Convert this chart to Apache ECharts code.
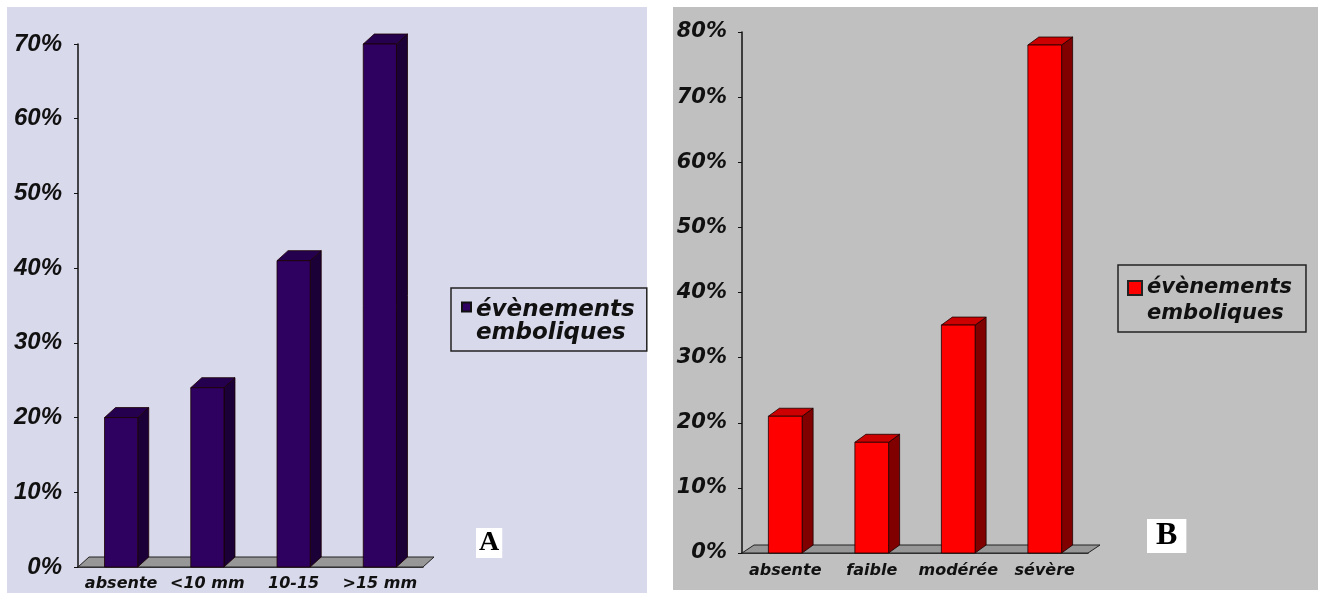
<!DOCTYPE html>
<html>
<head>
<meta charset="utf-8">
<script src="https://cdn.jsdelivr.net/npm/echarts@6/dist/echarts.min.js"></script>
<style>
html,body{margin:0;padding:0;background:#fff;}
#chart{width:1318px;height:593px;}
</style>
</head>
<body>
<div id="chart"></div>
<script>
// ---- Data ----
var categoriesA = ['absente', '<10 mm', '10-15', '>15 mm'];
var valuesA = [20, 24, 41, 70];
var categoriesB = ['absente', 'faible', 'modérée', 'sévère'];
var valuesB = [21, 17, 35, 78];
var seriesName = 'évènements emboliques';
var legendText = 'évènements\nemboliques';
var panelLabels = ['A', 'B'];

function bar3d(front, side, top, dx, dy, ratio) {
  return function (params, api) {
    var c = api.value(0), v = api.value(1);
    var pTop = api.coord([c, v]);
    var pBase = api.coord([c, 0]);
    var bw = api.size([1, 0])[0] * ratio;
    var x0 = pTop[0] - bw / 2, x1 = pTop[0] + bw / 2;
    var yt = pTop[1], yb = pBase[1];
    var stroke = { stroke: '#1a0000', lineWidth: 0.8 };
    return {
      type: 'group',
      children: [
        { type: 'polygon', shape: { points: [[x1, yt], [x1 + dx, yt + dy], [x1 + dx, yb + dy], [x1, yb]] },
          style: Object.assign({ fill: side }, stroke) },
        { type: 'polygon', shape: { points: [[x0, yt], [x0 + dx, yt + dy], [x1 + dx, yt + dy], [x1, yt]] },
          style: Object.assign({ fill: top }, stroke) },
        { type: 'rect', shape: { x: x0, y: yt, width: bw, height: yb - yt },
          style: Object.assign({ fill: front }, stroke) }
      ]
    };
  };
}

function floor(dx, dy) {
  return function (params, api) {
    var cs = params.coordSys;
    var y = api.coord([0, 0])[1];
    var l = cs.x, r = cs.x + cs.width;
    return {
      type: 'polygon',
      shape: { points: [[l, y], [l + dx, y + dy], [r + dx, y + dy], [r, y]] },
      style: { fill: '#979797', stroke: '#222', lineWidth: 1 }
    };
  };
}

var catLabel = { fontFamily: 'DejaVu Sans', fontStyle: 'italic', fontWeight: 'bold', fontSize: 16, color: '#111' };

var chart = echarts.init(document.getElementById('chart'), null, { renderer: 'canvas' });
chart.setOption({
  backgroundColor: '#ffffff',
  animation: false,
  graphic: {
    elements: [
      { type: 'rect', z: -100, shape: { x: 7, y: 7, width: 640, height: 586 }, style: { fill: '#d9d9ec' } },
      { type: 'rect', z: -100, shape: { x: 673, y: 7, width: 645, height: 583 }, style: { fill: '#c0c0c0' } },
      { type: 'text', z: 100, left: 476, top: 528,
        style: { text: panelLabels[0], font: 'bold 28px "Liberation Serif"', fill: '#000', backgroundColor: '#fff', padding: [1, 3, 1, 3] } },
      { type: 'text', z: 100, left: 1147, top: 519,
        style: { text: panelLabels[1], font: 'bold 32px "Liberation Serif"', fill: '#000', backgroundColor: '#fff', padding: [1, 9, 1, 9] } }
    ]
  },
  grid: [
    { left: 78, top: 44, width: 345, height: 523 },
    { left: 742, top: 32, width: 346, height: 521 }
  ],
  xAxis: [
    { gridIndex: 0, type: 'category', data: categoriesA, boundaryGap: true,
      axisLine: { lineStyle: { color: '#111', width: 1.5 } },
      axisTick: { length: 5, lineStyle: { color: '#111' } },
      axisLabel: Object.assign({ margin: 9, interval: 0 }, catLabel) },
    { gridIndex: 1, type: 'category', data: categoriesB, boundaryGap: true,
      axisLine: { lineStyle: { color: '#111', width: 1.5 } },
      axisTick: { length: 5, lineStyle: { color: '#111' } },
      axisLabel: Object.assign({ margin: 10, interval: 0 }, catLabel) }
  ],
  yAxis: [
    { gridIndex: 0, type: 'value', min: 0, max: 70, interval: 10,
      axisLine: { show: true, lineStyle: { color: '#111', width: 1.5 } },
      axisTick: { show: true, length: 4, lineStyle: { color: '#111' } },
      splitLine: { show: false },
      axisLabel: { formatter: '{value}%', margin: 16, fontFamily: 'Liberation Sans', fontStyle: 'italic', fontWeight: 'bold', fontSize: 24, color: '#111' } },
    { gridIndex: 1, type: 'value', min: 0, max: 80, interval: 10,
      axisLine: { show: true, lineStyle: { color: '#111', width: 1.5 } },
      axisTick: { show: true, length: 4, lineStyle: { color: '#111' } },
      splitLine: { show: false },
      axisLabel: { formatter: '{value}%', margin: 15, fontFamily: 'DejaVu Sans', fontStyle: 'italic', fontWeight: 'bold', fontSize: 21, color: '#111' } }
  ],
  legend: [
    { left: 451, top: 288, orient: 'vertical', padding: [11, 12, 6, 10],
      borderColor: '#222', borderWidth: 1.5,
      itemWidth: 9, itemHeight: 39, selectedMode: false,
      data: [{ name: seriesName + ' A', icon: 'path://M0,0h9v9h-9zM0,39' }],
      formatter: function () { return legendText; },
      textStyle: { fontFamily: 'DejaVu Sans', fontStyle: 'italic', fontWeight: 'bold', fontSize: 23, lineHeight: 23, color: '#111' } },
    { left: 1118, top: 265, orient: 'vertical', padding: [10, 14, 5, 9],
      borderColor: '#222', borderWidth: 1.5,
      itemWidth: 14, itemHeight: 40, selectedMode: false,
      data: [{ name: seriesName + ' B', icon: 'path://M0,0h14v14h-14zM0,40' }],
      formatter: function () { return legendText; },
      textStyle: { fontFamily: 'DejaVu Sans', fontStyle: 'italic', fontWeight: 'bold', fontSize: 21, lineHeight: 26, color: '#111' } }
  ],
  series: [
    { type: 'custom', name: 'floorA', xAxisIndex: 0, yAxisIndex: 0, z: 1, silent: true,
      renderItem: floor(11, -10), data: [[0, 0]] },
    { type: 'custom', name: seriesName + ' A', xAxisIndex: 0, yAxisIndex: 0, z: 3,
      itemStyle: { color: '#2e0060', borderColor: '#111', borderWidth: 1 },
      renderItem: bar3d('#2e0060', '#1a0036', '#25004e', 11, -10, 0.385),
      encode: { x: 0, y: 1 },
      data: valuesA.map(function (v, i) { return [i, v]; }) },
    { type: 'custom', name: 'floorB', xAxisIndex: 1, yAxisIndex: 1, z: 1, silent: true,
      renderItem: floor(12, -8), data: [[0, 0]] },
    { type: 'custom', name: seriesName + ' B', xAxisIndex: 1, yAxisIndex: 1, z: 3,
      itemStyle: { color: '#ff0000', borderColor: '#222', borderWidth: 1 },
      renderItem: bar3d('#ff0000', '#800000', '#cc0000', 11, -8, 0.39),
      encode: { x: 0, y: 1 },
      data: valuesB.map(function (v, i) { return [i, v]; }) }
  ]
});
</script>
</body>
</html>
